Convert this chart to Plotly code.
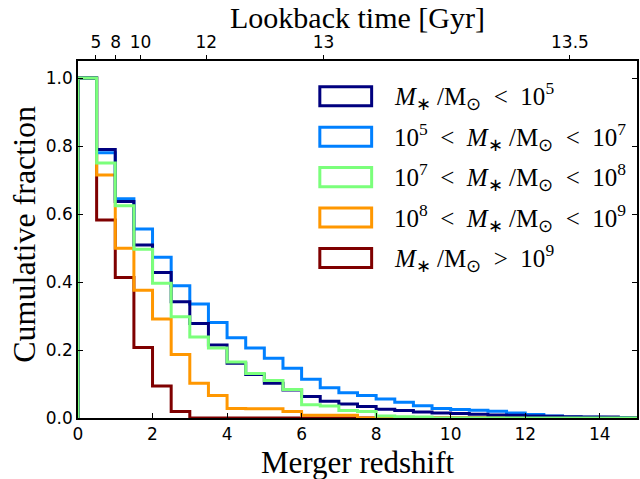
import numpy as np
import plotly.graph_objects as go

# Redshift bins (width 0.5) spanning 0 <= z <= 15
bin_width = 0.5
z_edges = np.arange(0.0, 15.0 + bin_width / 2, bin_width)

# Cumulative fraction of mergers above each redshift bin, one list per stellar-mass class
frac_below_1e5 = [1.0, 0.79, 0.637, 0.509, 0.428, 0.342, 0.278, 0.215, 0.161, 0.128,
                  0.102, 0.082, 0.063, 0.049, 0.041, 0.034, 0.026, 0.022, 0.018, 0.015,
                  0.013, 0.011, 0.009, 0.008, 0.006, 0.005, 0.004, 0.003, 0.003, 0.0]
frac_1e5_1e7 = [1.0, 0.78, 0.645, 0.556, 0.473, 0.389, 0.335, 0.281, 0.236, 0.206,
                0.176, 0.146, 0.114, 0.089, 0.074, 0.066, 0.056, 0.046, 0.036, 0.028,
                0.025, 0.023, 0.020, 0.015, 0.010, 0.006, 0.003, 0.002, 0.002, 0.0]
frac_1e7_1e8 = [1.0, 0.75, 0.624, 0.496, 0.396, 0.298, 0.238, 0.206, 0.165, 0.131,
                0.110, 0.084, 0.039, 0.035, 0.022, 0.019, 0.006, 0.004, 0.003, 0.0,
                0.0, 0.0, 0.0, 0.0, 0.0, 0.0, 0.0, 0.0, 0.0, 0.0]
frac_1e8_1e9 = [1.0, 0.715, 0.499, 0.376, 0.291, 0.187, 0.102, 0.066, 0.028, 0.027,
                0.027, 0.019, 0.008, 0.008, 0.008, 0.0, 0.0, 0.0, 0.0, 0.0,
                0.0, 0.0, 0.0, 0.0, 0.0, 0.0, 0.0, 0.0, 0.0, 0.0]
frac_above_1e9 = [1.0, 0.582, 0.413, 0.207, 0.094, 0.019, 0.0, 0.0, 0.0, 0.0,
                  0.0, 0.0, 0.0, 0.0, 0.0, 0.0, 0.0, 0.0, 0.0, 0.0,
                  0.0, 0.0, 0.0, 0.0, 0.0, 0.0, 0.0, 0.0, 0.0, 0.0]

mass_labels = [
    "<i>M</i><sub>∗</sub> /M<sub>⊙</sub>  &lt;  10<sup>5</sup>",
    "10<sup>5</sup>  &lt;  <i>M</i><sub>∗</sub> /M<sub>⊙</sub>  &lt;  10<sup>7</sup>",
    "10<sup>7</sup>  &lt;  <i>M</i><sub>∗</sub> /M<sub>⊙</sub>  &lt;  10<sup>8</sup>",
    "10<sup>8</sup>  &lt;  <i>M</i><sub>∗</sub> /M<sub>⊙</sub>  &lt;  10<sup>9</sup>",
    "<i>M</i><sub>∗</sub> /M<sub>⊙</sub>  &gt;  10<sup>9</sup>",
]
mass_colors = ["#00007f", "#0080ff", "#7bff7b", "#ff9700", "#7f0000"]
series = [frac_below_1e5, frac_1e5_1e7, frac_1e7_1e8, frac_1e8_1e9, frac_above_1e9]

# Top axis: lookback time ticks and the redshifts they sit at
lookback_ticks = ["5", "8", "10", "12", "13", "13.5"]
lookback_z = [0.48, 1.01, 1.68, 3.44, 6.59, 13.2]

bottom_ticks = [0, 2, 4, 6, 8, 10, 12, 14]
left_ticks = [0.0, 0.2, 0.4, 0.6, 0.8, 1.0]

serif = "Liberation Serif"
sans = "DejaVu Sans"


def step_outline(edges, values):
    """Outline of a step histogram: up from the baseline, across the bins, back down."""
    xs = np.repeat(edges, 2)
    ys = np.concatenate([[0.0], np.repeat(np.asarray(values, float), 2), [0.0]])
    return xs, ys


fig = go.Figure()

# drawing order: heaviest class first, light green on top
for idx in [4, 3, 1, 0, 2]:
    xs, ys = step_outline(z_edges, series[idx])
    fig.add_trace(go.Scatter(
        x=xs, y=ys, mode="lines",
        line=dict(color=mass_colors[idx], width=3),
        showlegend=False, hoverinfo="skip",
    ))

# empty trace so the lookback-time axis gets drawn
fig.add_trace(go.Scatter(x=[], y=[], xaxis="x2", mode="lines",
                         showlegend=False, hoverinfo="skip"))

# Hand-built legend: hollow boxes with labels
box_x0, box_x1 = 0.4326, 0.5253
row_top, row_h, row_step = 0.9278, 0.0534, 0.1132
shapes = []
annotations = []
for i, (lab, col) in enumerate(zip(mass_labels, mass_colors)):
    y1 = row_top - i * row_step
    y0 = y1 - row_h
    shapes.append(dict(type="rect", xref="paper", yref="paper",
                       x0=box_x0, x1=box_x1, y0=y0, y1=y1,
                       line=dict(color=col, width=3), fillcolor="rgba(0,0,0,0)"))
    annotations.append(dict(xref="paper", yref="paper", x=0.561, y=(y0 + y1) / 2,
                            xanchor="left", yanchor="middle", showarrow=False,
                            text=lab, font=dict(family=serif, size=25, color="black")))

# Axis titles
annotations += [
    dict(xref="paper", yref="paper", x=0.5, y=-0.1236, xanchor="center", yanchor="middle",
         text="Merger redshift", showarrow=False,
         font=dict(family=serif, size=31, color="black")),
    dict(xref="paper", yref="paper", x=0.5, y=1.122, xanchor="center", yanchor="middle",
         text="Lookback time [Gyr]", showarrow=False,
         font=dict(family=serif, size=30, color="black")),
    dict(xref="paper", yref="paper", x=-0.098, y=0.514, xanchor="center", yanchor="middle",
         text="Cumulative fraction", textangle=-90, showarrow=False,
         font=dict(family=serif, size=32, color="black")),
]

fig.update_layout(
    width=640, height=479,
    margin=dict(l=78, r=1, t=61, b=61),
    paper_bgcolor="white", plot_bgcolor="white",
    showlegend=False,
    shapes=shapes,
    annotations=annotations,
    xaxis=dict(
        range=[0, 15], tickmode="array", tickvals=bottom_ticks,
        ticks="inside", ticklen=5, tickwidth=1, tickcolor="black",
        showline=True, linecolor="black", linewidth=1.5, mirror=True,
        showgrid=False, zeroline=False,
        tickfont=dict(family=sans, size=17, color="black"),
    ),
    xaxis2=dict(
        overlaying="x", side="top", range=[0, 15],
        tickmode="array", tickvals=lookback_z, ticktext=lookback_ticks,
        ticks="outside", ticklen=5, tickwidth=1, tickcolor="black",
        showline=False, showgrid=False, zeroline=False,
        tickfont=dict(family=sans, size=17, color="black"),
    ),
    yaxis=dict(
        range=[0, 1.05], tickmode="array", tickvals=left_ticks,
        ticktext=[f"{v:.1f}" for v in left_ticks],
        ticks="inside", ticklen=5, tickwidth=1, tickcolor="black",
        showline=True, linecolor="black", linewidth=1.5, mirror="ticks",
        showgrid=False, zeroline=False,
        tickfont=dict(family=sans, size=17, color="black"),
    ),
)

fig.write_html("out.html")
